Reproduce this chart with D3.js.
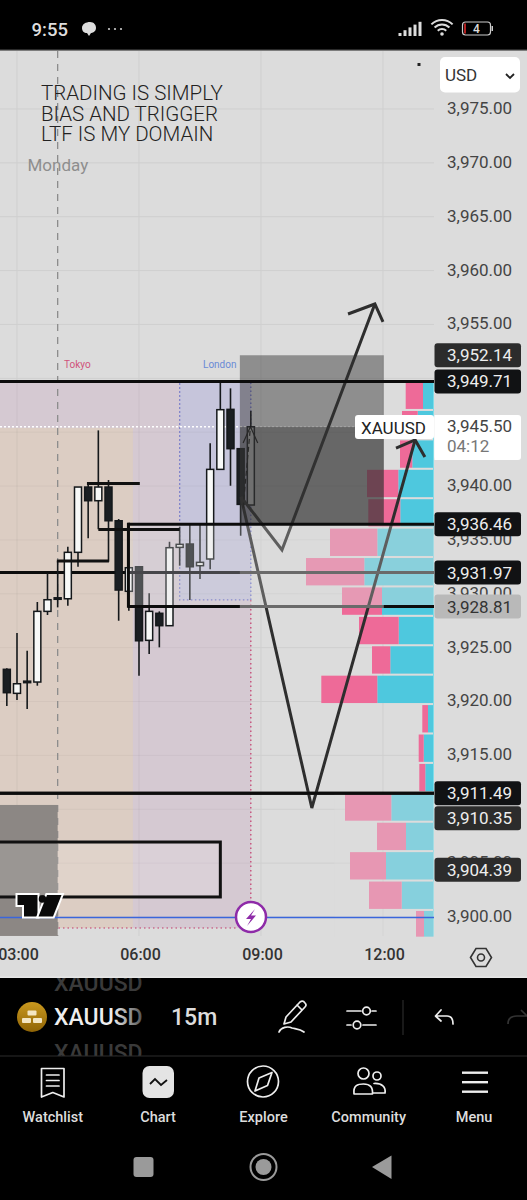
<!DOCTYPE html>
<html><head><meta charset="utf-8">
<script src="https://cdn.jsdelivr.net/npm/d3@7/dist/d3.min.js"></script>
<style>html,body{margin:0;padding:0;background:#000}svg{display:block}text{font-family:Roboto,sans-serif}</style>
</head><body><svg id="c" width="527" height="1200"></svg>
<script>
// ---- candle data (15m, XAUUSD) ----
const candleHours=[2.75,3,3.25,3.5,3.75,4,4.25,4.5,4.75,5,5.25,5.5,5.75,6,6.25,6.5,6.75,7,7.25,7.5,7.75,8,8.25,8.5,8.75];
const opens =[3922.99,3920.76,3921.79,3921.81,3928.37,3929.53,3929.54,3933.85,3939.91,3938.64,3939.91,3936.78,3930.23,3932.51,3925.68,3928.19,3927.04,3934.31,3934.62,3932.61,3933.23,3941.55,3947.12,3943.47,3938.24];
const highs =[3923.09,3926.36,3924.72,3929.24,3931.90,3933.04,3934.37,3939.91,3940.28,3945.17,3940.56,3936.94,3936.38,3932.59,3930.04,3928.37,3934.83,3936.23,3936.38,3936.38,3943.97,3949.59,3949.07,3943.50,3946.99];
const lows  =[3919.58,3920.14,3919.30,3921.47,3928.03,3928.74,3928.89,3932.51,3935.15,3935.99,3932.98,3927.50,3928.43,3922.40,3924.41,3925.03,3927.04,3932.61,3929.42,3931.37,3932.27,3941.55,3940.03,3935.39,3938.24];
const closes=[3920.82,3921.65,3921.89,3928.37,3929.45,3929.63,3933.85,3939.91,3938.64,3939.91,3936.78,3930.35,3932.42,3925.64,3928.37,3927.04,3934.28,3934.59,3932.51,3932.92,3941.55,3947.09,3943.47,3938.30,3945.50];
// ---- volume profile ----
const vpTop=3949.7, vpStep=2.73, vpRowHeight=2.54;
const vpSell=[17.3,15.7,12.3,31.3,32,47.3,58.3,40,39.7,18.3,56,5.7,5,6,46.3,29,36,32.7,8];
const vpBuy =[10.5,15.8,21.2,35.2,33.2,56.2,69.2,51.5,34.8,43.2,56.2,5.5,9.8,8.2,42.2,27.5,47.5,31.8,9.5];
// ---- axes ----
const gridPrices=[3900,3905,3910,3915,3920,3925,3930,3935,3940,3945,3950,3955,3960,3965,3970,3975];
const priceTicks=[3900,3905,3915,3920,3925,3930,3935,3940,3955,3960,3965,3970,3975];
const timeTicks=[3,6,9,12];
// ---- horizontal levels ----
const fullLevels=[3949.71,3931.97,3911.49];
const boxLevels=[3936.46,3928.81];
const segLevels=[[4.72,6.02,3940.24],[5,7,3935.97],[3.98,5.26,3933.05]];
// ---- price labels ----
const labelPrices=[3952.14,3949.71,3936.46,3931.97,3928.81,3911.49,3910.35,3904.39];
const labelFill=["#2c2c2c","#111214","#111214","#111214","#b9b9b9","#111214","#2c2c2c","#2c2c2c"];
const lastPrice=3945.50, countdown="04:12", symbol="XAUUSD";
// ---- drawings: [hour, price]
const arrowUp=[[8.508,3938.99],[9.516,3934.07],[11.80,3956.90]];
const arrowUpHead=[[11.14,3955.97],[11.80,3956.90],[12.0,3955.23]];
const arrowDown=[[8.508,3938.99],[10.25,3910.12],[12.79,3944.28]];
const arrowDownHead=[[12.32,3943.53],[12.79,3944.28],[13.03,3942.70]];
const noteLines=["TRADING IS SIMPLY","BIAS AND TRIGGER","LTF IS MY DOMAIN"];
const navLabels=["Watchlist","Chart","Explore","Community","Menu"];

const W=527,H=1200;
const x=d3.scaleLinear().domain([3,12]).range([17,383]);
const y=d3.scaleLinear().domain([3900,3975]).range([917,109]);
const vol=d3.scaleLinear().domain([0,200]).range([433.5,233.5]);
const svg=d3.select("#c");
const defs=svg.append("defs");
defs.append("clipPath").attr("id","plot").append("rect").attr("x",0).attr("y",51).attr("width",434).attr("height",885.5);
defs.append("clipPath").attr("id","symclip").append("rect").attr("x",0).attr("y",978).attr("width",527).attr("height",78);
const fg=defs.append("linearGradient").attr("id","fade").attr("gradientUnits","userSpaceOnUse").attr("x1",54).attr("x2",145).attr("y1",0).attr("y2",0);
fg.append("stop").attr("offset",0.65).attr("stop-color","#eee");fg.append("stop").attr("offset",1).attr("stop-color","#444");
const gg=defs.append("linearGradient").attr("id","gold").attr("x1",0).attr("y1",0).attr("x2",0).attr("y2",1);
gg.append("stop").attr("offset",0).attr("stop-color","#c9981e");gg.append("stop").attr("offset",1).attr("stop-color","#8f6406");

svg.append("rect").attr("width",W).attr("height",H).attr("fill","#000");
svg.append("rect").attr("y",50).attr("width",W).attr("height",927).attr("fill","#dcdcdc");
svg.append("rect").attr("y",49.5).attr("width",W).attr("height",1.2).attr("fill","#555");

const plot=svg.append("g").attr("clip-path","url(#plot)");
function rectP(g,h0,h1,p0,p1){return g.append("rect").attr("x",x(h0)).attr("width",x(h1)-x(h0)).attr("y",y(p0)).attr("height",y(p1)-y(p0));}
// grid
plot.append("g").selectAll("line").data(gridPrices).join("line").attr("x1",0).attr("x2",434).attr("y1",d=>y(d)).attr("y2",d=>y(d)).attr("stroke","#cfcfcf").attr("stroke-width",1);
plot.append("g").selectAll("line").data(timeTicks).join("line").attr("x1",d=>x(d)).attr("x2",d=>x(d)).attr("y1",51).attr("y2",936).attr("stroke","#cfcfcf").attr("stroke-width",1);
// sessions
rectP(plot,0,8.75,3949.7,3898.98).attr("fill","#d5c9d2");
rectP(plot,0,5.85,3945.4,3898.98).attr("fill","#dccdc3");
rectP(plot,7,8.75,3949.7,3929.43).attr("fill","#c6c5db");
plot.append("g").selectAll("line").data(gridPrices.filter(d=>d<3950)).join("line").attr("x1",0).attr("x2",251).attr("y1",d=>y(d)).attr("y2",d=>y(d)).attr("stroke","#000").attr("stroke-opacity",.04);
plot.append("g").selectAll("line").data([3,6]).join("line").attr("x1",d=>x(d)).attr("x2",d=>x(d)).attr("y1",382).attr("y2",928).attr("stroke","#000").attr("stroke-opacity",.05);
rectP(plot,7,8.75,3949.7,3929.43).attr("fill","none").attr("stroke","#6a6fc8").attr("stroke-width",1.3).attr("stroke-dasharray","1.5 2.5");
// Monday dashed
plot.append("line").attr("x1",x(4)).attr("x2",x(4)).attr("y1",51).attr("y2",936).attr("stroke","#8c8c8c").attr("stroke-width",1.3).attr("stroke-dasharray","7 6");
// pink dotted
const pinkDots="1.5 3";
plot.append("line").attr("x1",x(8.75)).attr("x2",x(8.75)).attr("y1",y(3929.43)).attr("y2",905).attr("stroke","#c23a6a").attr("stroke-width",1.2).attr("stroke-dasharray",pinkDots);
plot.append("line").attr("x1",0).attr("x2",236).attr("y1",y(3898.98)).attr("y2",y(3898.98)).attr("stroke","#c23a6a").attr("stroke-width",1.2).attr("stroke-dasharray",pinkDots);
// last price dotted
plot.append("line").attr("x1",0).attr("x2",355).attr("y1",y(lastPrice)).attr("y2",y(lastPrice)).attr("stroke","#fff").attr("stroke-width",1.4).attr("stroke-dasharray","2 2");
// volume profile
const vp=plot.append("g");
vpSell.forEach((s,i)=>{
  const t=vpTop-i*vpStep,b=t-vpRowHeight,by=vpBuy[i];
  vp.append("rect").attr("x",vol(by)).attr("width",vol(0)-vol(by)).attr("y",y(t)).attr("height",y(b)-y(t)).attr("fill","#4ec8de");
  vp.append("rect").attr("x",vol(by+s)).attr("width",vol(by)-vol(by+s)).attr("y",y(t)).attr("height",y(b)-y(t)).attr("fill","#ee6a98");
});
plot.append("line").attr("x1",433.5).attr("x2",433.5).attr("y1",y(3949.7)).attr("y2",936).attr("stroke","#7fdce8").attr("stroke-width",1);
// extra fade on profile rows inside the pale box
rectP(plot,9.9,14,3936.46,3928.81).attr("fill","#dcdcdc").attr("fill-opacity",.2);
// gray box bottom-left
rectP(plot,0,4,3910.4,3898.24).attr("fill","#8c8784");
// level lines
plot.append("g").selectAll("line").data(fullLevels).join("line").attr("x1",0).attr("x2",434).attr("y1",d=>y(d)).attr("y2",d=>y(d)).attr("stroke","#0c0c0c").attr("stroke-width",3);
// bottom box
rectP(plot,0,8,3906.96,3901.86).attr("x",-5).attr("width",x(8)+5).attr("fill","#fff").attr("fill-opacity",.13).attr("stroke","#111").attr("stroke-width",3);
// candles
const cg=plot.append("g");
candleHours.forEach((h,i)=>{
  const up=closes[i]>=opens[i];
  const g=cg.append("g");
  g.append("line").attr("x1",x(h)).attr("x2",x(h)).attr("y1",y(highs[i])).attr("y2",y(lows[i])).attr("stroke","#15181b").attr("stroke-width",1.6);
  const top=Math.max(opens[i],closes[i]),bot=Math.min(opens[i],closes[i]);
  g.append("rect").attr("x",x(h)-3.5).attr("width",7).attr("y",y(top)).attr("height",Math.max(1.5,y(bot)-y(top))).attr("fill",up?"#f8f9f8":"#1a1e22").attr("stroke","#15181b").attr("stroke-width",1.5);
});
// drawings
const ln=d3.line().x(d=>x(d[0])).y(d=>y(d[1]));
[arrowUp,arrowUpHead,arrowDown,arrowDownHead].forEach(a=>plot.append("path").attr("d",ln(a)).attr("fill","none").attr("stroke","#2e2e2e").attr("stroke-width",3));
plot.append("path").attr("d",ln([[8.56,3938],[8.74,3945.5]])).attr("fill","none").attr("stroke","#111").attr("stroke-width",1.2).attr("stroke-dasharray","5 3");
plot.append("path").attr("d",ln([[8.56,3944],[8.74,3945.5],[8.92,3944]])).attr("fill","none").attr("stroke","#111").attr("stroke-width",1.2);
// position boxes
rectP(plot,8.48,12.02,3952.14,lastPrice).attr("fill","#333").attr("fill-opacity",.46);
rectP(plot,8.48,12.02,lastPrice,3936.46).attr("fill","#333").attr("fill-opacity",.69);
// pale box
rectP(plot,5.74,14,3936.46,3928.81).attr("fill","#dcdcdc").attr("fill-opacity",.28);
// faded stretches of the 3931.97 level
plot.append("line").attr("x1",x(5.74)).attr("x2",x(8.48)).attr("y1",y(3931.97)).attr("y2",y(3931.97)).attr("stroke","#46464a").attr("stroke-width",3);
plot.append("line").attr("x1",x(8.48)).attr("x2",434).attr("y1",y(3931.97)).attr("y2",y(3931.97)).attr("stroke","#6a6a6a").attr("stroke-width",3);
plot.append("g").selectAll("line").data(boxLevels).join("line").attr("x1",x(5.74)).attr("x2",434).attr("y1",d=>y(d)).attr("y2",d=>y(d)).attr("stroke","#0c0c0c").attr("stroke-width",3);
plot.append("line").attr("x1",x(5.74)).attr("x2",x(5.74)).attr("y1",y(3936.6)).attr("y2",y(3928.7)).attr("stroke","#0c0c0c").attr("stroke-width",3);
plot.append("line").attr("x1",x(8.48)).attr("x2",x(12.02)).attr("y1",y(3928.81)).attr("y2",y(3928.81)).attr("stroke","#6a6a6a").attr("stroke-width",3);
// pale lower box
rectP(plot,10.8,14,3911.35,3898).attr("fill","#dcdcdc").attr("fill-opacity",.4);
// top lines above boxes
plot.append("line").attr("x1",0).attr("x2",434).attr("y1",y(3949.71)).attr("y2",y(3949.71)).attr("stroke","#0c0c0c").attr("stroke-width",3);
plot.append("line").attr("x1",0).attr("x2",434).attr("y1",y(3911.49)).attr("y2",y(3911.49)).attr("stroke","#0c0c0c").attr("stroke-width",3);
// segment levels
plot.append("g").selectAll("line").data(segLevels).join("line").attr("x1",d=>x(d[0])).attr("x2",d=>x(d[1])).attr("y1",d=>y(d[2])).attr("y2",d=>y(d[2])).attr("stroke","#111").attr("stroke-width",3);
// blue line
plot.append("line").attr("x1",0).attr("x2",434).attr("y1",y(3900)+.5).attr("y2",y(3900)+.5).attr("stroke","#3a66dc").attr("stroke-width",1.6);
// session names
svg.append("text").attr("x",64).attr("y",368).attr("font-size",10).attr("fill","#d0527a").text("Tokyo");
svg.append("text").attr("x",203).attr("y",368).attr("font-size",10).attr("fill","#6a8ad6").text("London");
// note text
svg.append("g").selectAll("text").data(noteLines).join("text").attr("x",41).attr("y",(d,i)=>100+i*20.5).attr("font-size",20.5).attr("font-weight",300).attr("fill","#222").text(d=>d);
svg.append("text").attr("x",27.5).attr("y",171).attr("font-size",17).attr("fill","#8e8e8e").text("Monday");
svg.append("rect").attr("x",417.5).attr("y",63).attr("width",3).attr("height",3).attr("fill","#222");
// axes
const ya=d3.axisRight(y).tickValues(priceTicks).tickFormat(d3.format(",.2f")).tickSize(0).tickPadding(13);
const yg=svg.append("g").attr("transform","translate(434,-1)").call(ya);
yg.select(".domain").remove();
yg.selectAll("text").attr("font-size",17).attr("fill","#444").style("font-family","Roboto");
const xa=d3.axisBottom(x).tickValues(timeTicks).tickFormat(d=>d3.format("02")(d)+":00").tickSize(0).tickPadding(13);
const xg=svg.append("g").attr("transform","translate(1,936)").call(xa);
xg.select(".domain").remove();
xg.selectAll("text").attr("font-size",16).attr("font-weight",500).attr("fill","#333").style("font-family","Roboto");
// symbol + last price labels
svg.append("rect").attr("x",355).attr("y",415).attr("width",79).attr("height",24).attr("rx",3).attr("fill","#fff");
svg.append("text").attr("x",361).attr("y",434).attr("font-size",17).attr("fill","#222").text(symbol);
svg.append("rect").attr("x",434.5).attr("y",415).attr("width",86.5).attr("height",45).attr("rx",3).attr("fill","#fff");
svg.append("rect").attr("x",434.5).attr("y",415).attr("width",10).attr("height",45).attr("fill","#fff");
svg.append("text").attr("x",447).attr("y",432).attr("font-size",17).attr("fill","#444").text(d3.format(",.2f")(lastPrice));
svg.append("text").attr("x",447).attr("y",452).attr("font-size",17).attr("fill","#777").text(countdown);
// stacked price tags
let prevBottom=-1e9;
labelPrices.forEach((p,i)=>{
  const h=24;let cy=y(p);
  if(cy-h/2<prevBottom+1)cy=prevBottom+1+h/2;
  prevBottom=cy+h/2;
  svg.append("rect").attr("x",434.5).attr("y",cy-h/2).attr("width",86.5).attr("height",h).attr("rx",3).attr("fill",labelFill[i]);
  svg.append("text").attr("x",447).attr("y",cy+6).attr("font-size",17).attr("fill",labelFill[i]==="#b9b9b9"?"#333":"#eee").text(d3.format(",.2f")(p));
});
// USD button
svg.append("rect").attr("x",440).attr("y",57).attr("width",80).attr("height",35.5).attr("rx",5).attr("fill","#fff");
svg.append("text").attr("x",445).attr("y",81).attr("font-size",17).attr("fill","#333").text("USD");
svg.append("path").attr("d","M506 74 L510 78 L514 74").attr("fill","none").attr("stroke","#222").attr("stroke-width",1.8);
// TV logo
const logo=svg.append("g").attr("stroke","#fff").attr("stroke-width",4).attr("stroke-linejoin","miter").attr("fill","#0a0a0a").style("paint-order","stroke");
logo.append("path").attr("d","M17.5 895 H37.5 V916.5 H24 V905 H17.5 Z");
logo.append("path").attr("d","M61.5 895 L53 916.5 H38.5 L47 895 Z");
logo.append("circle").attr("cx",42.5).attr("cy",899).attr("r",3.8).attr("stroke","none");
// lightning
svg.append("circle").attr("cx",251).attr("cy",917).attr("r",15).attr("fill","#fff").attr("stroke","#8e2ba8").attr("stroke-width",2.5);
svg.append("path").attr("d","M255 909 L246 919 H251 L247 926 L256 915.5 H251 Z").attr("fill","#8e2ba8");
// hex settings
svg.append("path").attr("d","M470.5 957.5 L476 948.5 H486 L491.5 957.5 L486 966.5 H476 Z").attr("fill","none").attr("stroke","#333").attr("stroke-width",1.6);
svg.append("circle").attr("cx",481).attr("cy",957.5).attr("r",3.5).attr("fill","none").attr("stroke","#333").attr("stroke-width",1.6);

// ---- phone chrome ----
svg.append("rect").attr("y",976.5).attr("width",W).attr("height",1.5).attr("fill","#e6e6e6");
svg.append("text").attr("x",31.5).attr("y",36).attr("font-size",18.5).attr("font-weight",500).attr("fill","#ddd").text("9:55");
svg.append("path").attr("d","M82 28 C82 24 86 22 90 22 C94 22 96 25 96 28 C96 32 92 33 91 33 L89 36 L87 33 C84 33 82 31 82 28Z").attr("fill","#ddd");
svg.append("g").selectAll("circle").data([109,115,121]).join("circle").attr("cx",d=>d).attr("cy",29).attr("r",1.1).attr("fill","#ccc");
svg.append("g").selectAll("rect").data([0,1,2,3,4]).join("rect").attr("x",d=>398.5+d*5).attr("y",d=>33-d*2.8).attr("width",3).attr("height",d=>3+d*2.8).attr("fill","#ddd");
[15,10.5,6].forEach(r=>{const k=r*.707;svg.append("path").attr("d",`M${442-k} ${35-k} A${r} ${r} 0 0 1 ${442+k} ${35-k}`).attr("fill","none").attr("stroke","#ddd").attr("stroke-width",2);});
svg.append("circle").attr("cx",442).attr("cy",34).attr("r",1.8).attr("fill","#ddd");
svg.append("rect").attr("x",462.5).attr("y",22).attr("width",28).attr("height",13).attr("rx",3).attr("fill","none").attr("stroke","#ccc").attr("stroke-width",1.2);
svg.append("rect").attr("x",464).attr("y",23.5).attr("width",2).attr("height",10).attr("fill","#b02020");
svg.append("rect").attr("x",491.5).attr("y",26).attr("width",1.5).attr("height",5).attr("fill","#ccc");
svg.append("text").attr("x",476.5).attr("y",33).attr("text-anchor","middle").attr("font-size",12).attr("font-weight",500).attr("fill","#ddd").text("4");

// symbol bar
svg.append("circle").attr("cx",32).attr("cy",1017).attr("r",15).attr("fill","url(#gold)");
svg.append("g").selectAll("rect").data([[27.5,1010.5],[22,1018],[33,1018]]).join("rect").attr("x",d=>d[0]).attr("y",d=>d[1]).attr("width",9).attr("height",5).attr("rx",1).attr("fill","#f3e6c4");
const sym=svg.append("g").attr("clip-path","url(#symclip)");
sym.append("text").attr("x",54).attr("y",1025).attr("font-size",23).attr("font-weight",500).attr("fill","url(#fade)").text(symbol);
[991,1061].forEach(b=>sym.append("text").attr("x",54).attr("y",b).attr("font-size",23).attr("font-weight",500).attr("fill","#3a3a3a").text(symbol));
svg.append("text").attr("x",171).attr("y",1025).attr("font-size",23).attr("font-weight",500).attr("fill","#ddd").text("15m");
const ic=svg.append("g").attr("fill","none").attr("stroke","#eee").attr("stroke-width",1.7).attr("stroke-linecap","round").attr("stroke-linejoin","round");
ic.append("path").attr("d","M286 1017 L300 1002 Q303 1000 305 1003 Q307 1005 305 1007 L291 1022 L284 1024 Z M297 1005 L302 1010");
ic.append("path").attr("d","M279 1032 C281 1027 288 1026 292 1028 C296 1029 300 1029 304 1032");
ic.append("path").attr("d","M347 1011 H361 M372 1011 H376 M347 1025 H351 M363 1025 H376");
ic.append("circle").attr("cx",366.5).attr("cy",1011).attr("r",3.8);
ic.append("circle").attr("cx",357).attr("cy",1025).attr("r",3.8);
svg.append("line").attr("x1",403).attr("x2",403).attr("y1",1000).attr("y2",1035).attr("stroke","#333");
ic.append("path").attr("d","M441 1010 L435.5 1016 L441 1021 M436 1016 H447 Q453 1016 453 1024");
svg.append("path").attr("d","M521 1010 L527 1016 M527 1016 H517 Q508 1016 508 1024").attr("fill","none").attr("stroke","#333").attr("stroke-width",1.7);
svg.append("line").attr("x1",0).attr("x2",W).attr("y1",1056).attr("y2",1056).attr("stroke","#2c2c2c").attr("stroke-width",1.2);
// nav
const navX=[52.8,158,263.5,368.7,474];
svg.append("g").selectAll("text").data(navLabels).join("text").attr("x",(d,i)=>navX[i]).attr("y",1122).attr("text-anchor","middle").attr("font-size",14.5).attr("font-weight",500).attr("fill","#ddd").text(d=>d);
ic.append("path").attr("d","M41.5 1068.5 H64 V1097 L52.8 1092.5 L41.5 1097 Z M46.5 1075 H59 M46.5 1080.5 H59 M46.5 1086 H59");
svg.append("rect").attr("x",142.5).attr("y",1066).attr("width",31.5).attr("height",32).attr("rx",7).attr("fill","#e4e4e4");
svg.append("path").attr("d","M150 1084 L155 1079 L161 1085 L167 1080").attr("fill","none").attr("stroke","#111").attr("stroke-width",1.8);
ic.append("circle").attr("cx",263).attr("cy",1081.5).attr("r",15.5);
ic.append("path").attr("d","M272 1072.5 L267.5 1085.5 L255 1091 L259 1078 Z");
ic.append("circle").attr("cx",363.5).attr("cy",1073.5).attr("r",5.5);
ic.append("circle").attr("cx",377).attr("cy",1076).attr("r",4);
ic.append("path").attr("d","M354 1094 C353 1085 358 1084 363.5 1084 C370 1084 373 1087 372.5 1094 Z M374 1083.5 C382 1083 386 1087 385 1093 L373 1093");
svg.append("g").selectAll("rect").data([1071.5,1081,1090.5]).join("rect").attr("x",462).attr("y",d=>d).attr("width",26).attr("height",2.4).attr("fill","#eee");
// android nav
svg.append("rect").attr("x",133.5).attr("y",1157).attr("width",20).attr("height",20).attr("rx",3).attr("fill","#9a9a9a");
svg.append("circle").attr("cx",263.5).attr("cy",1167).attr("r",13).attr("fill","none").attr("stroke","#9a9a9a").attr("stroke-width",2);
svg.append("circle").attr("cx",263.5).attr("cy",1167).attr("r",8).attr("fill","#9a9a9a");
svg.append("path").attr("d","M372 1167 L391.5 1155.5 V1179 Z").attr("fill","#9a9a9a");
</script></body></html>
